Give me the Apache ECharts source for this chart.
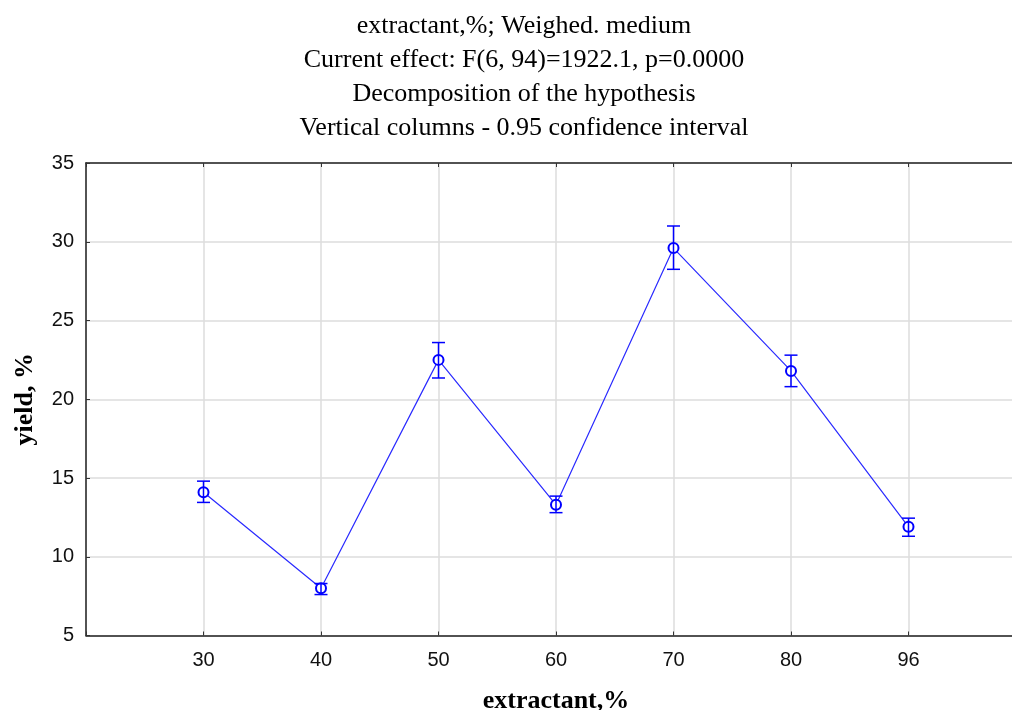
<!DOCTYPE html>
<html>
<head>
<meta charset="utf-8">
<script src="https://cdn.jsdelivr.net/npm/echarts@6/dist/echarts.min.js"></script>
<style>html,body{margin:0;padding:0;background:#fff;overflow:hidden;}#c{width:1012px;height:710px;}</style>
</head>
<body>
<div id="c"></div>
<script>
const categories = ['30', '40', '50', '60', '70', '80', '96'];
const means = [14.1, 8.0, 22.5, 13.3, 29.6, 21.8, 11.9];
const lower = [13.45, 7.6, 21.35, 12.8, 28.25, 20.8, 11.3];
const upper = [14.8, 8.3, 23.6, 13.85, 31.0, 22.8, 12.45];
const yTicks = [5, 10, 15, 20, 25, 30, 35];
const titleLines = [
  'extractant,%; Weighed. medium',
  'Current effect: F(6, 94)=1922.1, p=0.0000',
  'Decomposition of the hypothesis',
  'Vertical columns - 0.95 confidence interval'
];

const lineData = means.map((v, i) => [i + 1, v]);
const errData = means.map((v, i) => [i + 1, lower[i], upper[i]]);

const chart = echarts.init(document.getElementById('c'), null, {renderer: 'canvas'});
chart.setOption({
  animation: false,
  backgroundColor: '#fff',
  title: {
    text: titleLines.join('\n'),
    left: 519, top: 4, textAlign: 'center',
    textStyle: {fontFamily: 'Liberation Serif', fontSize: 26, fontWeight: 'normal', color: '#000', lineHeight: 34}
  },
  grid: {left: 86, top: 163, height: 472.5, width: 940, containLabel: false, outerBoundsMode: 'none'},
  xAxis: [{
    type: 'value', min: 0, max: 8, interval: 1,
    name: 'extractant,%', nameLocation: 'middle', nameGap: 53,
    nameTextStyle: {fontFamily: 'Liberation Serif', fontSize: 26, fontWeight: 'bold', color: '#000'},
    axisLine: {lineStyle: {color: '#222', width: 1.5}},
    axisTick: {inside: true, length: 4, lineStyle: {color: '#333'}},
    axisLabel: {margin: 15, fontFamily: 'Liberation Sans', fontSize: 20, color: '#111',
      formatter: v => (v >= 1 && v <= categories.length) ? categories[v - 1] : ''},
    splitLine: {show: true, lineStyle: {color: '#dcdcdc', width: 1.5}}
  }, {
    type: 'value', min: 0, max: 8, interval: 1, position: 'top',
    axisLine: {lineStyle: {color: '#222', width: 1.5}},
    axisTick: {inside: true, length: 4, lineStyle: {color: '#333'}},
    axisLabel: {show: false}, splitLine: {show: false}
  }],
  yAxis: {
    type: 'value', min: 5, max: 35, interval: 5,
    name: 'yield, %', nameLocation: 'middle', nameGap: 48,
    nameTextStyle: {fontFamily: 'Liberation Serif', fontSize: 26, fontWeight: 'bold', color: '#000'},
    axisLine: {show: true, lineStyle: {color: '#222', width: 1.5}},
    axisTick: {show: true, inside: true, length: 4, lineStyle: {color: '#333'}},
    axisLabel: {margin: 12, fontFamily: 'Liberation Sans', fontSize: 20, color: '#111',
      formatter: v => yTicks.includes(v) ? String(v) : ''},
    splitLine: {show: true, lineStyle: {color: '#dcdcdc', width: 1.5}}
  },
  series: [{
    type: 'line', data: lineData, xAxisIndex: 0,
    symbol: 'emptyCircle', symbolSize: 10,
    lineStyle: {color: '#2a2aff', width: 1.2},
    itemStyle: {color: '#0000ff', borderColor: '#0000ff', borderWidth: 1.2},
    z: 2
  }, {
    type: 'custom', data: errData, xAxisIndex: 0, z: 3,
    renderItem: function (params, api) {
      const x = api.value(0);
      const lo = api.coord([x, api.value(1)]);
      const hi = api.coord([x, api.value(2)]);
      const hw = 6.5;
      const style = {stroke: '#0000ff', lineWidth: 1.5};
      return {type: 'group', children: [
        {type: 'line', shape: {x1: lo[0], y1: lo[1], x2: hi[0], y2: hi[1]}, style: style},
        {type: 'line', shape: {x1: lo[0] - hw, y1: lo[1], x2: lo[0] + hw, y2: lo[1]}, style: style},
        {type: 'line', shape: {x1: hi[0] - hw, y1: hi[1], x2: hi[0] + hw, y2: hi[1]}, style: style}
      ]};
    }
  }]
});
</script>
</body>
</html>
